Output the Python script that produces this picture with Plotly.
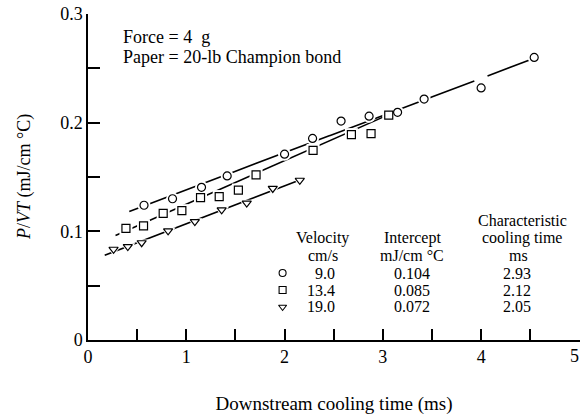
import plotly.graph_objects as go
import numpy as np

# ---- data ----
circ_x = [0.57, 0.86, 1.155, 1.416, 2.0, 2.285, 2.575, 2.86, 3.15, 3.42, 4.0, 4.54]
circ_y = [0.124, 0.130, 0.1405, 0.151, 0.171, 0.1855, 0.2015, 0.206, 0.2095, 0.2217, 0.232, 0.260]

sq_x = [0.386, 0.565, 0.765, 0.955, 1.145, 1.335, 1.53, 1.71, 2.29, 2.68, 2.88, 3.06]
sq_y = [0.1027, 0.105, 0.1166, 0.119, 0.131, 0.132, 0.138, 0.152, 0.1745, 0.189, 0.190, 0.207]

tri_x = [0.26, 0.405, 0.546, 0.815, 1.087, 1.36, 1.615, 1.88, 2.155]
tri_y = [0.0835, 0.086, 0.0895, 0.1005, 0.109, 0.1198, 0.126, 0.1395, 0.147]

velocities = ["9.0", "13.4", "19.0"]
intercepts = [0.104, 0.085, 0.072]
cool_times = ["2.93", "2.12", "2.05"]
slopes = [0.0342, 0.0400, 0.0349]
fit_start = [0.42, 0.28, 0.17]
fit_end = [4.54, 3.06, 2.155]

x_ticks = [0, 0.5, 1, 1.5, 2, 2.5, 3, 3.5, 4, 4.5, 5]
x_labels = ["0", "", "1", "", "2", "", "3", "", "4", "", ""]
last_x_label = "5"
y_ticks = [0, 0.05, 0.1, 0.15, 0.2, 0.25, 0.3]
y_labels = ["0", "", "0.1", "", "0.2", "", "0.3"]

FONT = "Liberation Serif"
symbols = ["circle-open", "square-open", "triangle-down-open"]
series = [(circ_x, circ_y), (sq_x, sq_y), (tri_x, tri_y)]
# small break in the fitted circle line (as drawn in the original)
line_gaps = [[(3.935, 4.06)], [], []]

fig = go.Figure()

# fitted lines
for i in range(3):
    xs = np.linspace(fit_start[i], fit_end[i], 400)
    ys = intercepts[i] + slopes[i] * xs
    for a, b in line_gaps[i]:
        ys = np.where((xs > a) & (xs < b), np.nan, ys)
    fig.add_trace(go.Scatter(x=xs, y=ys, mode="lines",
                             line=dict(color="black", width=1.6),
                             connectgaps=False,
                             hoverinfo="skip", showlegend=False))

# white halos to break lines around markers
for (xs, ys), sym in zip(series, symbols):
    fig.add_trace(go.Scatter(x=xs, y=ys, mode="markers",
                             marker=dict(symbol=sym.replace("-open", ""), size=13,
                                         color="white", line=dict(width=0)),
                             hoverinfo="skip", showlegend=False))

# markers
for (xs, ys), sym in zip(series, symbols):
    fig.add_trace(go.Scatter(x=xs, y=ys, mode="markers",
                             marker=dict(symbol=sym, size=8, color="black",
                                         line=dict(width=1.2, color="black")),
                             showlegend=False))

# legend/table symbols
leg_y = [0.0616, 0.046, 0.0304]
for sym, yy in zip(symbols, leg_y):
    fig.add_trace(go.Scatter(x=[1.98], y=[yy], mode="markers",
                             marker=dict(symbol=sym, size=7, color="black",
                                         line=dict(width=1.1, color="black")),
                             showlegend=False, hoverinfo="skip"))

ann = []
def txt(x, y, s, size=16, xanchor="center"):
    ann.append(dict(x=x, y=y, xref="x", yref="y", text=s, showarrow=False,
                    xanchor=xanchor, yanchor="middle",
                    font=dict(family=FONT, size=size, color="black")))

# upper-left notes
txt(0.335, 0.2785, "Force = 4  g", size=18, xanchor="left")
txt(0.335, 0.2605, "Paper = 20-lb Champion bond", size=18, xanchor="left")

# table headers
txt(2.39, 0.0935, "Velocity")
txt(2.39, 0.0775, "cm/s")
txt(3.30, 0.0935, "Intercept")
txt(3.30, 0.0775, "mJ/cm °C")
txt(4.42, 0.110, "Characteristic")
txt(4.42, 0.0935, "cooling time")
txt(4.38, 0.0775, "ms")
for v, b, t, yy in zip(velocities, intercepts, cool_times, leg_y):
    txt(2.53, yy, v, xanchor="right")
    txt(3.30, yy, f"{b:.3f}")
    txt(4.36, yy, t)

# last x tick label (kept inside the page)
ann.append(dict(x=5, y=0, xref="x", yref="paper", text=last_x_label,
                showarrow=False, xanchor="right", yanchor="top", yshift=-4,
                xshift=2, font=dict(family=FONT, size=18, color="black")))

# y-axis title
ann.append(dict(x=-0.13, y=0.5, xref="paper", yref="paper",
                text="<i>P</i>/<i>VT</i> (mJ/cm °C)", textangle=-90,
                showarrow=False, xanchor="center", yanchor="middle",
                font=dict(family=FONT, size=18, color="black")))

fig.update_layout(
    width=583, height=418,
    margin=dict(l=88, r=3, t=14, b=78),
    paper_bgcolor="white", plot_bgcolor="white",
    font=dict(family=FONT, size=18, color="black"),
    annotations=ann,
    xaxis=dict(range=[0, 5.006], tickvals=x_ticks, ticktext=x_labels,
               ticks="inside", ticklen=11, tickwidth=1.5, tickcolor="black",
               showline=True, linecolor="black", linewidth=1.5,
               showgrid=False, zeroline=False,
               title=dict(text="Downstream cooling time (ms)", standoff=30,
                          font=dict(family=FONT, size=19))),
    yaxis=dict(range=[0, 0.3], tickvals=y_ticks, ticktext=y_labels,
               ticks="inside", ticklen=12, tickwidth=1.5, tickcolor="black",
               showline=True, linecolor="black", linewidth=1.5,
               showgrid=False, zeroline=False),
)

fig.write_html("out.html", config={"displayModeBar": False},
               post_script="document.body.style.margin='0';document.body.style.overflow='hidden';")
